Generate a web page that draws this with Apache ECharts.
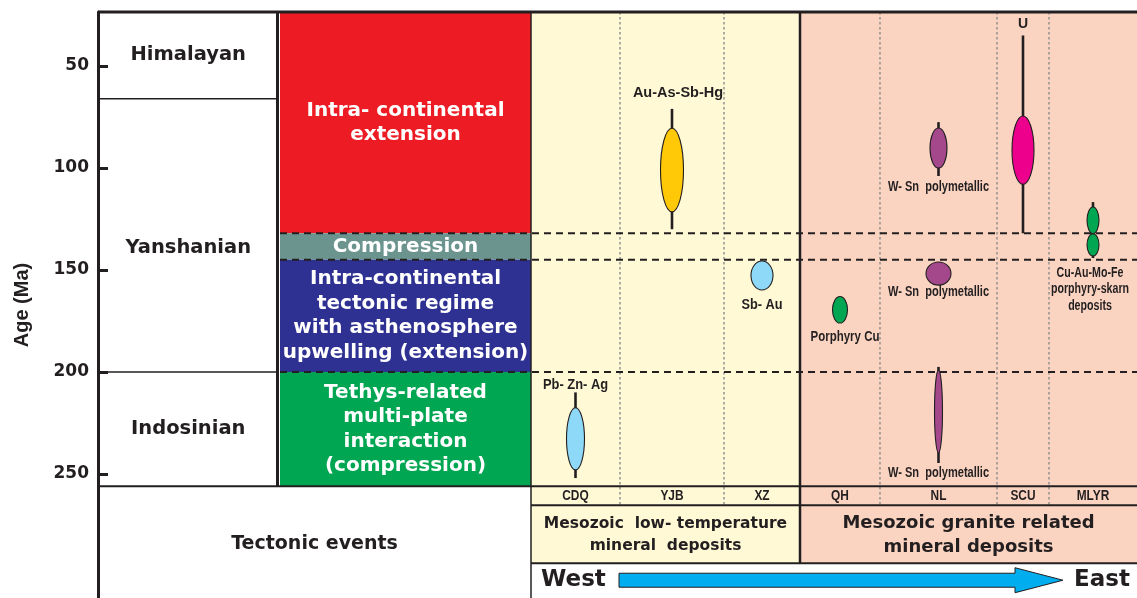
<!DOCTYPE html>
<html><head><meta charset="utf-8">
<script src="https://cdn.jsdelivr.net/npm/echarts@6/dist/echarts.min.js"></script>
<style>html,body{margin:0;padding:0;background:#fff}#c{width:1137px;height:598px}</style>
</head><body><div id="c"></div>
<script>
// ---------------- data ----------------
const ageTicks = [50, 100, 150, 200, 250];
const periodNames = ['Himalayan', 'Yanshanian', 'Indosinian'];
const periodTop = [23.5, 66, 200];
const periodBottom = [66, 200, 256];
const regimeLabels = [
  'Intra- continental\nextension',
  'Compression',
  'Intra-continental\ntectonic regime\nwith asthenosphere\nupwelling (extension)',
  'Tethys-related\nmulti-plate\ninteraction\n(compression)'
];
const regimeTop = [23.5, 132, 145, 200];
const regimeBottom = [132, 145, 200, 256];
const boundaryAges = [132, 145, 200];
const districts = ['CDQ', 'YJB', 'XZ', 'QH', 'NL', 'SCU', 'MLYR'];
const groupLabels = ['Mesozoic  low- temperature\nmineral  deposits', 'Mesozoic granite related\nmineral deposits'];
const groupFirst = [0, 3];
const groupLast = [2, 6];
const depositLabels = ['Au-As-Sb-Hg', 'Pb- Zn- Ag', 'Sb- Au', 'Porphyry Cu', 'W- Sn  polymetallic', 'W- Sn  polymetallic', 'W- Sn  polymetallic', 'U', '', 'Cu-Au-Mo-Fe\nporphyry-skarn\ndeposits'];
const depositDistrict = ['YJB', 'CDQ', 'XZ', 'QH', 'NL', 'NL', 'NL', 'SCU', 'MLYR', 'MLYR'];
const ellipseTop    = [80.5, 217.5, 145.6, 163, 80.4, 146.1, 199, 74.5, 119.1, 132.2];
const ellipseBottom = [121.5, 248, 159.8, 176, 100, 157.4, 239.7, 108, 132.2, 143.1];
const rangeTop      = [71, 210, null, null, 77.5, null, 197.5, 35, 116.7, null];
const rangeBottom   = [130, 252, null, null, 103.9, null, 244.6, 132, null, 144.1];
const directionLabels = ['West', 'East'];
const bottomTitle = 'Tectonic events';

// ---------------- layout / style ----------------
const DARK = '#231F20';
const L = {
  xMax: 1039, ageMin: 23.5, ageMax: 310.8, frameAge: 256,
  ageCol: [0, 180.5], regimeCol: [182, 433],
  edges: [433, 522, 626, 702, 782, 899, 951, 1039],
  labelRowH: 19, groupRowH: 58, totalH: 115
};
const regimeColors = ['#ED1C24', '#6B948F', '#2E3192', '#00A651'];
const groupColors = ['#FFF9D6', '#FBD4C1'];
const periodDy = [0, 13, 0];
const depStyle = {
  color: ['#FFC907', '#8ED8F8', '#8ED8F8', '#00A651', '#A4478B', '#A4478B', '#A4478B', '#EC008C', '#00A651', '#00A651'],
  width: [23, 18, 22, 15, 17, 25, 8, 22, 12, 12],
  side: ['top', 'top', 'bottom', 'bottom', 'bottom', 'bottom', 'bottom', 'top', 'bottom', 'bottom'],
  gap: [16, 7, 15, 14, 11, 7, 10, 11, 0, 15],
  scale: [1, 0.92, 0.91, 0.82, 0.79, 0.79, 0.79, 1, 1, 0.76],
  dx: [6, 0, 0, 5, 0, 0, 0, 0, 0, -3],
  size: [14.5, 14, 14, 14, 14, 14, 14, 14, 14, 14]
};

function colCenter(i) { return (L.edges[i] + L.edges[i + 1]) / 2; }
function P(api, x, age, dy) { const p = api.coord([x, age]); return [p[0], p[1] + (dy || 0)]; }
function rectEl(api, x0, a0, x1, a1, fill, dy0, dy1) {
  const p0 = P(api, x0, a0, dy0), p1 = P(api, x1, a1, dy1);
  return { type: 'rect', shape: { x: p0[0], y: p0[1], width: p1[0] - p0[0], height: p1[1] - p0[1] }, style: { fill: fill } };
}
function lineEl(api, x0, a0, dy0, x1, a1, dy1, w, color, dash) {
  const p0 = P(api, x0, a0, dy0), p1 = P(api, x1, a1, dy1);
  return { type: 'line', shape: { x1: p0[0], y1: p0[1], x2: p1[0], y2: p1[1] },
    style: { stroke: color || DARK, lineWidth: w, lineDash: dash || null } };
}
function textEl(x, y, text, o) {
  return { type: 'text', x: x, y: y, scaleX: o.scaleX || 1,
    style: { x: 0, y: 0, text: text, fill: o.fill || DARK, fontSize: o.size, fontFamily: o.family || 'DejaVu Sans',
      fontWeight: 'bold', align: o.align || 'center', verticalAlign: o.va || 'middle', lineHeight: o.lh || o.size * 1.2 } };
}

const panels = function (params, api) {
  const ch = [];
  for (let g = 0; g < 2; g++) {
    ch.push(rectEl(api, L.edges[groupFirst[g]], L.ageMin, L.edges[groupLast[g] + 1], L.frameAge, groupColors[g], 0, L.labelRowH + L.groupRowH));
  }
  for (let i = 0; i < regimeLabels.length; i++) {
    ch.push(rectEl(api, L.regimeCol[0], regimeTop[i], L.regimeCol[1], regimeBottom[i], regimeColors[i], 0, 0));
  }
  return { type: 'group', children: ch };
};

const frame = function (params, api) {
  const ch = [];
  const fa = L.frameAge;
  // dotted column dividers
  [1, 2, 4, 5, 6].forEach(function (k) {
    ch.push(lineEl(api, L.edges[k], L.ageMin, 0, L.edges[k], fa, L.labelRowH, 1.4, '#8C8C8C', [2.5, 2.5]));
  });
  // dashed boundaries
  boundaryAges.forEach(function (a) {
    ch.push(lineEl(api, L.regimeCol[0], a, 0, L.xMax, a, 0, 2, DARK, [7, 5]));
  });
  // period boundaries in age column
  periodBottom.slice(0, 2).forEach(function (a) {
    ch.push(lineEl(api, 0, a, 0, L.ageCol[1], a, 0, 1.5));
  });
  ch.push(lineEl(api, 0, L.ageMin, 0, L.xMax, L.ageMin, 0, 3));
  ch.push(lineEl(api, L.ageCol[1] - 1, L.ageMin, 0, L.ageCol[1] - 1, fa, 0, 3));
  ch.push(lineEl(api, L.edges[0], L.ageMin, 0, L.edges[0], fa, L.totalH, 1.5));
  ch.push(lineEl(api, L.edges[3], L.ageMin, 0, L.edges[3], fa, L.labelRowH + L.groupRowH, 2.5));
  ch.push(lineEl(api, 0, fa, 0, L.xMax, fa, 0, 2));
  ch.push(lineEl(api, L.edges[0], fa, L.labelRowH, L.xMax, fa, L.labelRowH, 2));
  ch.push(lineEl(api, L.edges[0], fa, L.labelRowH + L.groupRowH, L.xMax, fa, L.labelRowH + L.groupRowH, 2));
  return { type: 'group', children: ch };
};

const deposits = function (params, api) {
  const i = params.dataIndex;
  const di = districts.indexOf(depositDistrict[i]);
  const x = colCenter(di);
  const ch = [];
  const eT = P(api, x, ellipseTop[i]), eB = P(api, x, ellipseBottom[i]);
  const top = rangeTop[i] != null ? Math.min(rangeTop[i], ellipseTop[i]) : ellipseTop[i];
  const bot = rangeBottom[i] != null ? Math.max(rangeBottom[i], ellipseBottom[i]) : ellipseBottom[i];
  const pT = P(api, x, top), pB = P(api, x, bot);
  if (rangeTop[i] != null || rangeBottom[i] != null) {
    ch.push({ type: 'line', shape: { x1: pT[0], y1: pT[1], x2: pB[0], y2: pB[1] }, style: { stroke: DARK, lineWidth: 2.6 } });
  }
  ch.push({ type: 'ellipse', shape: { cx: eT[0], cy: (eT[1] + eB[1]) / 2, rx: depStyle.width[i] / 2, ry: (eB[1] - eT[1]) / 2 },
    style: { fill: depStyle.color[i], stroke: DARK, lineWidth: 1.1 } });
  if (depositLabels[i]) {
    const lh = 16.5;
    const side = depStyle.side[i];
    const ly = side === 'top' ? pT[1] - depStyle.gap[i] + lh / 2 : pB[1] + depStyle.gap[i] - lh / 2;
    ch.push(textEl(pT[0] + depStyle.dx[i], ly, depositLabels[i], {
      size: depStyle.size[i], family: 'Liberation Sans', scaleX: depStyle.scale[i], lh: lh,
      va: side === 'top' ? 'bottom' : 'top' }));
  }
  return { type: 'group', children: ch };
};

const texts = function (params, api) {
  const ch = [];
  const fa = L.frameAge;
  periodNames.forEach(function (n, i) {
    const p = P(api, (L.ageCol[0] + L.ageCol[1]) / 2, (periodTop[i] + periodBottom[i]) / 2, periodDy[i]);
    ch.push(textEl(p[0], p[1], n, { size: 19.5 }));
  });
  regimeLabels.forEach(function (n, i) {
    const p = P(api, (L.regimeCol[0] + L.regimeCol[1]) / 2, (regimeTop[i] + regimeBottom[i]) / 2);
    ch.push(textEl(p[0], p[1], n, { size: 20, fill: '#FFFFFF', lh: 24.5 }));
  });
  districts.forEach(function (n, i) {
    const p = P(api, colCenter(i), fa, L.labelRowH / 2 + 0.5);
    ch.push(textEl(p[0], p[1], n, { size: 14, family: 'Liberation Sans', scaleX: 0.85 }));
  });
  groupLabels.forEach(function (n, g) {
    const p = P(api, (L.edges[groupFirst[g]] + L.edges[groupLast[g] + 1]) / 2, fa, L.labelRowH + L.groupRowH / 2 + 1);
    ch.push(textEl(p[0], p[1], n, g === 0 ? { size: 15.5, lh: 22 } : { size: 18, lh: 24 }));
  });
  const tp = P(api, (L.ageCol[0] + L.edges[0]) / 2, fa, 58);
  ch.push(textEl(tp[0], tp[1], bottomTitle, { size: 19 }));
  const wy = 94;
  const w = P(api, L.edges[0] + 10, fa, wy);
  ch.push(textEl(w[0], w[1], directionLabels[0], { size: 23, align: 'left' }));
  const e = P(api, L.xMax - 7, fa, wy);
  ch.push(textEl(e[0], e[1], directionLabels[1], { size: 23, align: 'right' }));
  const a0 = P(api, 521, fa, wy)[0], a1 = P(api, 917, fa, wy)[0], a2 = P(api, 965, fa, wy)[0];
  const cy = w[1];
  ch.push({ type: 'polygon', shape: { points: [[a0, cy - 7], [a1, cy - 7], [a1, cy - 12.5], [a2, cy], [a1, cy + 12.5], [a1, cy + 7], [a0, cy + 7]] },
    style: { fill: '#00AEEF', stroke: DARK, lineWidth: 1 } });
  return { type: 'group', children: ch };
};

const chart = echarts.init(document.getElementById('c'), null, { renderer: 'canvas' });
chart.setOption({
  animation: false,
  backgroundColor: '#FFFFFF',
  grid: { left: 98, right: 0, top: 12, bottom: 0, containLabel: false },
  xAxis: { type: 'value', min: 0, max: L.xMax, show: false },
  yAxis: {
    type: 'value', inverse: true, min: L.ageMin, max: L.ageMax,
    name: 'Age (Ma)', nameLocation: 'middle', nameRotate: 90, nameGap: 66,
    nameTextStyle: { fontFamily: 'Liberation Sans', fontWeight: 'bold', fontSize: 20, color: DARK },
    axisLine: { show: true, lineStyle: { color: DARK, width: 3 } },
    axisTick: { show: true, inside: true, length: 10, lineStyle: { color: DARK, width: 3 }, customValues: ageTicks },
    axisLabel: { customValues: ageTicks, fontFamily: 'DejaVu Sans', fontWeight: 'bold', fontSize: 17, color: DARK, margin: 9 },
    splitLine: { show: false }
  },
  series: [
    { type: 'custom', name: 'panels', renderItem: panels, data: [[0, 100]], z: 1, silent: true },
    { type: 'custom', name: 'frame', renderItem: frame, data: [[0, 100]], z: 2, silent: true },
    { type: 'custom', name: 'deposits', renderItem: deposits, data: depositLabels.map(function (n, i) { return [colCenter(districts.indexOf(depositDistrict[i])), ellipseTop[i]]; }), z: 3, silent: true },
    { type: 'custom', name: 'texts', renderItem: texts, data: [[0, 100]], z: 4, silent: true }
  ]
});
</script>
</body></html>
